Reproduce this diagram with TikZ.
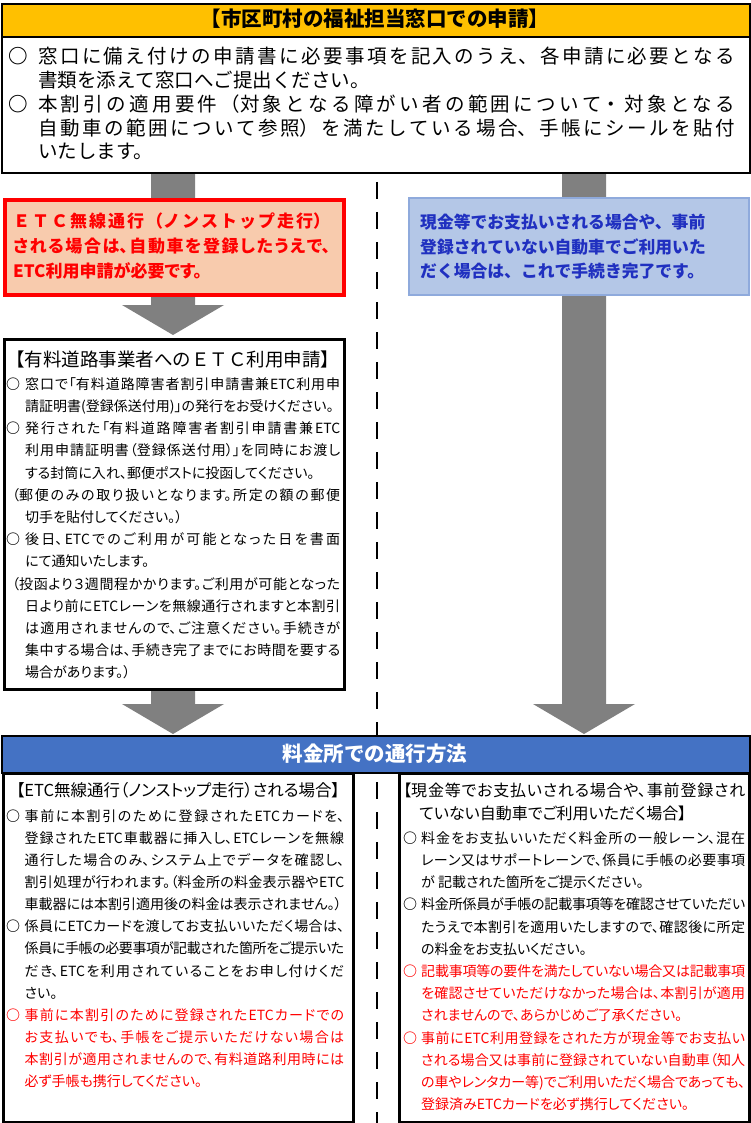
\documentclass[tikz,border=0pt]{standalone}
\usepackage{fontspec}
\setmainfont{Noto Sans CJK JP}
\newfontfamily\jpp[RawFeature=+palt]{Noto Sans CJK JP}
\usetikzlibrary{calc}
\XeTeXlinebreaklocale "ja"
\XeTeXlinebreakskip=0pt plus 2pt minus 0.6pt
\tolerance=10000
\hbadness=10000
\definecolor{hdrY}{HTML}{FFC000}
\definecolor{hdrB}{HTML}{4472C4}
\definecolor{peach}{HTML}{F8CBAD}
\definecolor{lblue}{HTML}{B4C7E7}
\definecolor{lbline}{HTML}{8FAADC}
\definecolor{arrowgray}{HTML}{808080}
\definecolor{bluetxt}{RGB}{32,48,192}
\definecolor{redtxt}{HTML}{FF0000}
\newlength\bw
\newcommand\bulmark{\makebox[\bw][l]{\bfseries ○}}
\newcommand\firstitm{\hangindent=\bw\hangafter=1\leavevmode\bulmark}
\newcommand\itm{\par\noindent\hangindent=\bw\hangafter=1\bulmark}
\newcommand\subpar[1]{\par\noindent\hangindent=\bw\hangafter=1\hspace*{#1}}
\newcommand\barrow[2]{\fill[arrowgray] ($(#1)+(-22,0)$) -- ($(#1)+(22,0)$) -- ($(#2)+(22,-30)$) -- ($(#2)+(51,-30)$) -- (#2) -- ($(#2)+(-51,-30)$) -- ($(#2)+(-22,-30)$) -- cycle;}
\begin{document}
\begin{tikzpicture}[x=1pt,y=-1pt,
  box/.style={draw=black, line width=2pt, inner sep=0pt, anchor=north west},
  txt/.style={inner sep=0pt, anchor=base west, align=justify},
  lbl/.style={inner sep=0pt, anchor=base west}]
\useasboundingbox (0,0) rectangle (750,1123);
\fill[white] (0,0) rectangle (750,1123);
% arrows
\coordinate (aLs) at (173,172);
\coordinate (aRs) at (584,172);
\coordinate (aL1) at (173,335);
\coordinate (aL2s) at (173,688);
\coordinate (aL2) at (173,734);
\coordinate (aR) at (584,734);
\barrow{aLs}{aL1}
\barrow{aL2s}{aL2}
\barrow{aRs}{aR}
\coordinate (dashtop) at (377,182);
\coordinate (dashbot) at (377,1123);
\draw[line width=2.5pt, dash pattern=on 17pt off 13pt] (dashtop) -- (dashbot);
% top box
\node[box, fill=white, minimum width=748, minimum height=169] (top) at (1,3) {};
\node[box, fill=hdrY, minimum width=748, minimum height=33] (toph) at (1,3) {};
\node[inner sep=0pt, anchor=base, font=\bfseries\fontsize{20.5}{24}\selectfont] (toptitle) at (375,27) {【市区町村の福祉担当窓口での申請】};
\node[txt, text width=727, font=\fontsize{19.5}{23.75}\selectfont] (topt) at (8,64) {\setlength\bw{30pt}\XeTeXlinebreakskip=0pt plus 4pt minus 0.5pt%
\firstitm 窓口に備え付けの申請書に必要事項を記入のうえ、各申請に必要となる\linebreak
書類を添えて窓口へご提出ください。%
\itm 本割引の適用要件（対象となる障がい者の範囲について・対象となる\linebreak
自動車の範囲について参照）を満たしている場合、手帳にシールを貼付\linebreak
いたします。\par};
% red box
\node[box, draw=red, line width=4pt, fill=peach, minimum width=339, minimum height=95] (redb) at (3,198) {};
\node[txt, text width=317, text=red, font=\jpp\bfseries\fontsize{17}{25}\selectfont] (redt) at (13,227.5) {\XeTeXlinebreakskip=0pt plus 5pt minus 0.5pt%
{\rmfamily ＥＴＣ無線通行（ノンストップ走行）}\linebreak
される場合は、自動車を登録したうえで、\linebreak
ETC利用申請が必要です。\par};
% blue box
\node[box, draw=lbline, line width=2pt, fill=lblue, minimum width=340, minimum height=97] (blueb) at (408,197) {};
\node[lbl, text width=310, align=left, text=bluetxt, font=\bfseries\fontsize{16.8}{24.5}\selectfont] (bluet) at (420,229) {現金等でお支払いされる場合や、事前\\登録されていない自動車でご利用いた\\だく場合は、これで手続き完了です。};
% middle box
\node[box, line width=3pt, fill=white, minimum width=340, minimum height=350] (midb) at (2.5,337.5) {};
\node[lbl, font=\fontsize{18.5}{22}\selectfont] (midtitle) at (6,366) {【有料道路事業者へのＥＴＣ利用申請】};
\node[txt, text width=334, font=\jpp\fontsize{14}{22.2}\selectfont] (midt) at (6,389.3) {\setlength\bw{19pt}%
\firstitm 窓口で「有料道路障害者割引申請書兼ETC利用申\linebreak
請証明書(登録係送付用)」の発行をお受けください。%
\itm 発行された「有料道路障害者割引申請書兼ETC\linebreak
利用申請証明書（登録係送付用）」を同時にお渡し\linebreak
する封筒に入れ、郵便ポストに投函してください。%
\subpar{6pt}（郵便のみの取り扱いとなります。所定の額の郵便\linebreak
切手を貼付してください。）%
\itm 後日、ETCでのご利用が可能となった日を書面\linebreak
にて通知いたします。%
\subpar{6pt}（投函より３週間程かかります。ご利用が可能となった\linebreak
日より前にETCレーンを無線通行されますと本割引\linebreak
は適用されませんので、ご注意ください。手続きが\linebreak
集中する場合は、手続き完了までにお時間を要する\linebreak
場合があります。）\par};
% blue header
\node[box, fill=hdrB, minimum width=748, minimum height=37] (bh) at (1,735) {};
\node[inner sep=0pt, anchor=base, text=white, font=\bfseries\fontsize{20.5}{24}\selectfont] (bht) at (375,761) {料金所での通行方法};
% bottom left
\node[box, line width=2.5pt, fill=white, minimum width=350, minimum height=349] (bl) at (2,772) {};
\node[inner sep=0pt, anchor=base, font=\jpp\fontsize{16.5}{22}\selectfont] (blt) at (178,796) {【ETC無線通行（ノンストップ走行）される場合】};
\node[txt, text width=338, font=\jpp\fontsize{14}{22.1}\selectfont] (blb) at (6,821.3) {\setlength\bw{18.5pt}%
\firstitm 事前に本割引のために登録されたETCカードを、\linebreak
登録されたETC車載器に挿入し、ETCレーンを無線\linebreak
通行した場合のみ、システム上でデータを確認し、\linebreak
割引処理が行われます。（料金所の料金表示器やETC\linebreak
車載器には本割引適用後の料金は表示されません。）%
\itm 係員にETCカードを渡してお支払いいただく場合は、\linebreak
係員に手帳の必要事項が記載された箇所をご提示いた\linebreak
だき、ETCを利用されていることをお申し付けくだ\linebreak
さい。%
\par\color{red}%
\itm 事前に本割引のために登録されたETCカードでの\linebreak
お支払いでも、手帳をご提示いただけない場合は\linebreak
本割引が適用されませんので、有料道路利用時には\linebreak
必ず手帳も携行してください。\par};
% bottom right
\node[box, line width=2.5pt, fill=white, minimum width=350, minimum height=349] (br) at (398,772) {};
\node[txt, text width=342, font=\jpp\fontsize{16}{23}\selectfont] (brt) at (403,796) {\hangindent=16pt\hangafter=1\leavevmode 【現金等でお支払いされる場合や、事前登録され\linebreak
ていない自動車でご利用いただく場合】\par};
\node[txt, text width=342, font=\jpp\fontsize{14}{22.2}\selectfont] (brb) at (403,843.3) {\setlength\bw{18pt}%
\firstitm 料金をお支払いいただく料金所の一般レーン、混在\linebreak
レーン又はサポートレーンで、係員に手帳の必要事項\linebreak
が 記載された箇所をご提示ください。%
\itm 料金所係員が手帳の記載事項等を確認させていただい\linebreak
たうえで本割引を適用いたしますので、確認後に所定\linebreak
の料金をお支払いください。%
\par\color{red}%
\itm 記載事項等の要件を満たしていない場合又は記載事項\linebreak
を確認させていただけなかった場合は、本割引が適用\linebreak
されませんので、あらかじめご了承ください。%
\itm 事前にETC利用登録をされた方が現金等でお支払い\linebreak
される場合又は事前に登録されていない自動車（知人\linebreak
の車やレンタカー等)でご利用いただく場合であっても、\linebreak
登録済みETCカードを必ず携行してください。\par};
\end{tikzpicture}
\end{document}
